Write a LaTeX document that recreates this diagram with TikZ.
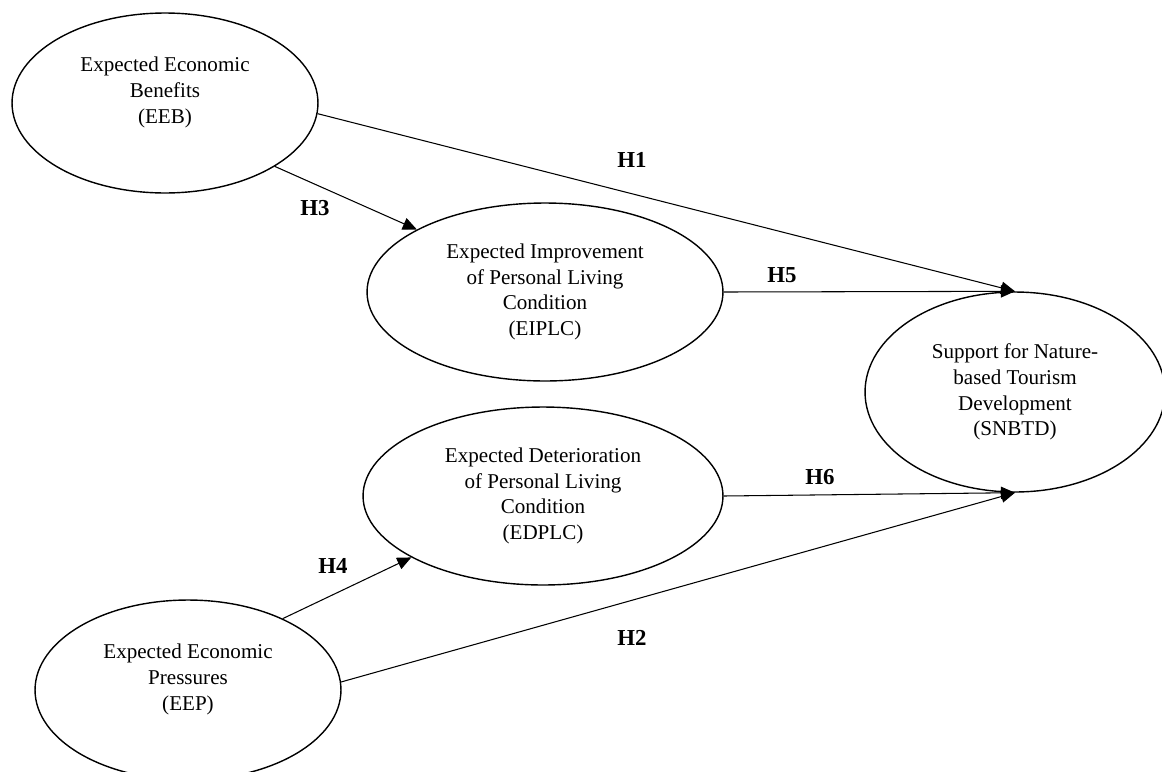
\documentclass[tikz,border=0pt]{standalone}
\usepackage{fontspec}
\setmainfont{Liberation Serif}
\usetikzlibrary{shapes.geometric,arrows.meta}

\begin{document}
\begin{tikzpicture}[x=0.02cm,y=-0.02cm,
    construct/.style={draw,ellipse,line width=0.8pt,inner sep=0pt,align=center,
        font=\fontsize{12}{14.7}\selectfont},
    hypo/.style={-{Triangle[length=8pt,width=7pt]},line width=0.6pt},
    hlabel/.style={font=\fontsize{13}{15}\selectfont\bfseries}]
    \useasboundingbox (0,0) rectangle (1162,771);

    \node[construct,minimum width=6.12cm,minimum height=3.6cm] (eeb) at (165,103) {Expected Economic\\Benefits\\(EEB)\\\mbox{}};
    \node[construct,minimum width=7.12cm,minimum height=3.56cm] (eiplc) at (545,292) {Expected Improvement\\of Personal Living\\Condition\\(EIPLC)};
    \node[construct,minimum width=7.2cm,minimum height=3.56cm] (edplc) at (543,496) {Expected Deterioration\\of Personal Living\\Condition\\(EDPLC)};
    \node[construct,minimum width=6.12cm,minimum height=3.6cm] (eep) at (188,690) {Expected Economic\\Pressures\\(EEP)\\\mbox{}};
    \node[construct,minimum width=6cm,minimum height=4cm] (snbtd) at (1015,392) {Support for Nature-\\based Tourism\\Development\\(SNBTD)};

    \draw[hypo] (eeb.-4) -- (snbtd.north);
    \draw[hypo] (eeb.-30) -- (eiplc.154);
    \draw[hypo] (eiplc.east) -- (snbtd.north);
    \draw[hypo] (edplc.east) -- (snbtd.south);
    \draw[hypo] (eep.37) -- (edplc.205);
    \draw[hypo] (eep.3) -- (snbtd.south);

    \node[hlabel] (h1) at (632,160) {H1};
    \node[hlabel] (h3) at (315,208) {H3};
    \node[hlabel] (h5) at (782,275) {H5};
    \node[hlabel] (h6) at (820,477) {H6};
    \node[hlabel] (h4) at (333,566) {H4};
    \node[hlabel] (h2) at (632,638) {H2};
\end{tikzpicture}
\end{document}
